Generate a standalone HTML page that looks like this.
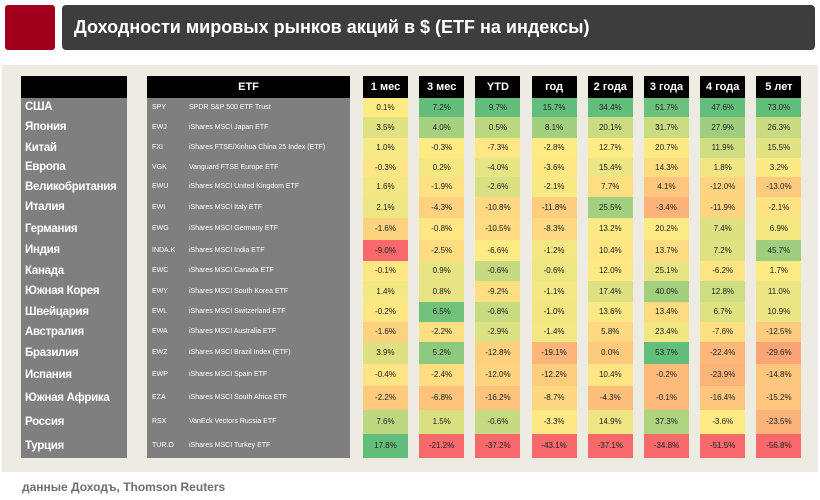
<!DOCTYPE html>
<html><head><meta charset="utf-8">
<style>
body{margin:0;width:820px;height:500px;background:#fff;font-family:"Liberation Sans","DejaVu Sans",sans-serif;position:relative;overflow:hidden}
.abs{position:absolute}
#redsq{left:5px;top:5px;width:50px;height:45px;background:#a1001d;border-radius:3px}
#title{left:62px;top:5px;width:753px;height:45px;background:#3d3d3d;border-radius:4px;color:#fff;font-weight:bold;font-size:18px;line-height:45px;padding-left:12px;box-sizing:border-box}
#panel{left:2px;top:65px;width:816px;height:407px;background:#edebe2}
.hdr{background:#000;color:#fff;font-size:11px;font-weight:bold;text-align:center;line-height:22px;top:76px;height:22px}
.cty{color:#fff;font-weight:bold;font-size:11.5px;letter-spacing:-0.3px;padding-left:4px;box-sizing:border-box;white-space:nowrap}
.etf{color:#fff;font-size:7px;white-space:nowrap}
.cell{font-size:8px;text-align:center;color:#222}
#src{left:22px;top:480px;font-size:12px;font-weight:bold;color:#6e6e6e}
</style></head><body>
<div class="abs" id="redsq"></div>
<div class="abs" id="title">Доходности мировых рынков акций в $ (ETF на индексы)</div>
<div class="abs" id="panel"></div>
<div class="abs" id="src">данные Доходъ, Thomson Reuters</div>
<div id="tbl"></div>
<script>
const countries=["США","Япония","Китай","Европа","Великобритания","Италия","Германия","Индия","Канада","Южная Корея","Швейцария","Австралия","Бразилия","Испания","Южная Африка","Россия","Турция"];
const tickers=["SPY","EWJ","FXI","VGK","EWU","EWI","EWG","INDA.K","EWC","EWY","EWL","EWA","EWZ","EWP","EZA","RSX","TUR.O"];
const etfNames=["SPDR S&P 500 ETF Trust","iShares MSCI Japan ETF","iShares FTSE/Xinhua China 25 Index (ETF)","Vanguard FTSE Europe ETF","iShares MSCI United Kingdom ETF","iShares MSCI Italy ETF","iShares MSCI Germany ETF","iShares MSCI India ETF","iShares MSCI Canada ETF","iShares MSCI South Korea ETF","iShares MSCI Switzerland ETF","iShares MSCI Australia ETF","iShares MSCI Brazil Index (ETF)","iShares MSCI Spain ETF","iShares MSCI South Africa ETF","VanEck Vectors Russia ETF","iShares MSCI Turkey ETF"];
const periods=["1 мес","3 мес","YTD","год","2 года","3 года","4 года","5 лет"];
const m1=[0.1,3.5,1.0,-0.3,1.6,2.1,-1.6,-9.0,-0.1,1.4,-0.2,-1.6,3.9,-0.4,-2.2,7.6,17.8];
const m3=[7.2,4.0,-0.3,0.2,-1.9,-4.3,-0.8,-2.5,0.9,0.8,6.5,-2.2,5.2,-2.4,-6.8,1.5,-21.2];
const ytd=[9.7,0.5,-7.3,-4.0,-2.6,-10.8,-10.5,-6.6,-0.6,-9.2,-0.8,-2.9,-12.8,-12.0,-16.2,-0.6,-37.2];
const y1=[15.7,8.1,-2.8,-3.6,-2.1,-11.8,-8.3,-1.2,-0.6,-1.1,-1.0,-1.4,-19.1,-12.2,-8.7,-3.3,-43.1];
const y2=[34.4,20.1,12.7,15.4,7.7,25.5,13.2,10.4,12.0,17.4,13.6,5.8,0.0,10.4,-4.3,14.9,-37.1];
const y3=[51.7,31.7,20.7,14.3,4.1,-3.4,20.2,13.7,25.1,40.0,13.4,23.4,53.7,-0.2,-0.1,37.3,-34.8];
const y4=[47.6,27.9,11.9,1.8,-12.0,-11.9,7.4,7.2,-6.2,12.8,6.7,-7.6,-22.4,-23.9,-16.4,-3.6,-51.5];
const y5=[73.0,26.3,15.5,3.2,-13.0,-2.1,6.9,45.7,1.7,11.0,10.9,-12.5,-29.6,-14.8,-15.2,-23.5,-56.8];
const series=[m1,m3,ytd,y1,y2,y3,y4,y5];

const rowB=[98,117,138,158,177,197,218,240,261,281,302,322,342,364,386,410,434,458];
const colX=i=>363+i*56.2, colW=45;
const T=document.getElementById('tbl');
function mk(cls,l,t,w,h,txt){const d=document.createElement('div');d.className='abs '+cls;d.style.left=l+'px';d.style.top=t+'px';d.style.width=w+'px';d.style.height=h+'px';if(txt!==undefined)d.textContent=txt;T.appendChild(d);return d;}
function mix(a,b,t){return a.map((v,i)=>Math.round(v+(b[i]-v)*t));}
const RED=[248,105,107],YEL=[255,235,132],GRN=[99,190,123];
function color(v,arr){const s=[...arr].sort((a,b)=>a-b);const mn=s[0],mx=s[s.length-1],md=s[Math.floor(s.length/2)];
 let c;if(v<=md)c=mix(RED,YEL,md===mn?1:(v-mn)/(md-mn));else c=mix(YEL,GRN,(v-md)/(mx-md));return 'rgb('+c.join(',')+')';}

let h=mk('hdr',21,76,106,22,'');


h=mk('hdr',147,76,203,22,'ETF');


let bg=mk('',21,98,106,360);bg.style.background='#7f7f7f';


bg=mk('',147,98,203,360);bg.style.background='#7f7f7f';


periods.forEach((p,j)=>{const d=mk('hdr',colX(j),76,colW,22,p);
 
 });
countries.forEach((c,i)=>{const t=rowB[i],hh=rowB[i+1]-t;
 let d=mk('cty',21,t,106,hh,c);d.style.lineHeight=hh+'px';
 
 
 d=mk('etf',152,t,30,hh,tickers[i]);d.style.lineHeight=hh+'px';
 
 
 d=mk('etf',189,t,160,hh,etfNames[i]);d.style.lineHeight=hh+'px';
 
 
 series.forEach((arr,j)=>{const v=arr[i];
  const e=mk('cell',colX(j),t,colW,hh,v.toFixed(1)+'%');e.style.lineHeight=hh+'px';e.style.background=color(v,arr);
  
  });
});
</script>
</body></html>
